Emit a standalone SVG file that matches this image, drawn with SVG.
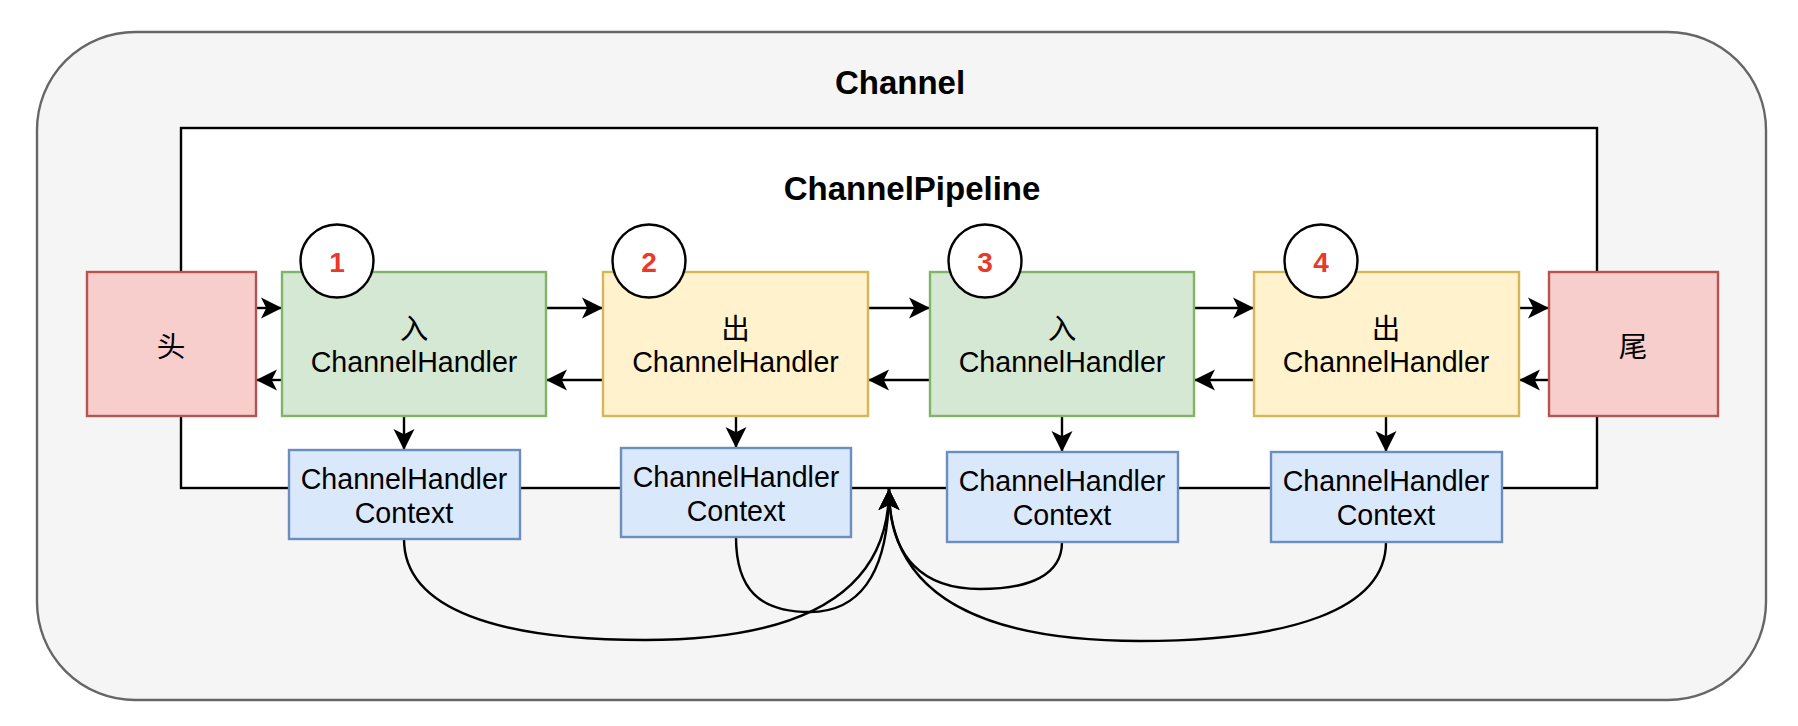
<svg xmlns="http://www.w3.org/2000/svg" width="1798" height="726" viewBox="0 0 1798 726">
<style>
.t{font-family:"Liberation Sans",Arial,"Noto Sans CJK SC",sans-serif;fill:#000;text-anchor:middle}
.title{font-size:33px;font-weight:bold}
.lbl{font-size:28.6px}
.num{font-size:28px;font-weight:bold;fill:#e8392b}
.green{fill:#d5e8d4;stroke:#82b366;stroke-width:2.4}
.yellow{fill:#fff2cc;stroke:#d6b656;stroke-width:2.4}
.red{fill:#f8cecc;stroke:#b85450;stroke-width:2.4}
.blue{fill:#dae8fc;stroke:#6c8ebf;stroke-width:2.4}
.circ{fill:#fff;stroke:#000;stroke-width:2.4}
.edge{fill:none;stroke:#000;stroke-width:2.4}
</style>
<defs>
<marker id="arr" markerUnits="userSpaceOnUse" viewBox="-22 -12 24 24" refX="0" refY="0" markerWidth="24" markerHeight="24" orient="auto">
<path d="M0,0 L-21,-10.5 L-15.75,0 L-21,10.5 Z" fill="#000"/>
</marker>
</defs>
<g id="channel">
<rect x="37" y="32" width="1729" height="668" rx="98" ry="98" fill="#f5f5f5" stroke="#666666" stroke-width="2.4"/>
<text class="t title" x="900" y="94">Channel</text>
</g>
<g id="pipeline">
<rect x="181" y="128" width="1416" height="360" fill="#ffffff" stroke="#000" stroke-width="2.4"/>
<text class="t title" x="912" y="200">ChannelPipeline</text>
</g>
<g id="connectors">
<path class="edge" d="M256,308 L282,308" marker-end="url(#arr)"/>
<path class="edge" d="M546,308 L603,308" marker-end="url(#arr)"/>
<path class="edge" d="M868,308 L930,308" marker-end="url(#arr)"/>
<path class="edge" d="M1194,308 L1254,308" marker-end="url(#arr)"/>
<path class="edge" d="M1519,308 L1549,308" marker-end="url(#arr)"/>
<path class="edge" d="M1549,380 L1519,380" marker-end="url(#arr)"/>
<path class="edge" d="M1254,380 L1194,380" marker-end="url(#arr)"/>
<path class="edge" d="M930,380 L868,380" marker-end="url(#arr)"/>
<path class="edge" d="M603,380 L546,380" marker-end="url(#arr)"/>
<path class="edge" d="M282,380 L256,380" marker-end="url(#arr)"/>
<path class="edge" d="M404,416 L404,450" marker-end="url(#arr)"/>
<path class="edge" d="M736,416 L736,448" marker-end="url(#arr)"/>
<path class="edge" d="M1062,416 L1062,452" marker-end="url(#arr)"/>
<path class="edge" d="M1386,416 L1386,452" marker-end="url(#arr)"/>
<path class="edge" d="M404,539 C404,610 500,640 645,640 C770,640 889,610 889,489" marker-end="url(#arr)"/>
<path class="edge" d="M736,537 C736,590 760,612 810,612 C855,612 889,580 889,489" marker-end="url(#arr)"/>
<path class="edge" d="M1062,542 C1062,575 1030,589 980,589 C925,589 889,560 889,489" marker-end="url(#arr)"/>
<path class="edge" d="M1386,542 C1386,610 1290,641 1140,641 C990,641 889,600 889,489" marker-end="url(#arr)"/>
</g>
<g id="head">
<rect class="red" x="87" y="272" width="169" height="144"/>
<text class="t lbl" x="171" y="357">头</text>
</g>
<g id="handler1">
<rect class="green" x="282" y="272" width="264" height="144"/>
<text class="t lbl" x="414" y="339">入</text>
<text class="t lbl" x="414" y="372">ChannelHandler</text>
</g>
<g id="handler2">
<rect class="yellow" x="603" y="272" width="265" height="144"/>
<text class="t lbl" x="735.5" y="339">出</text>
<text class="t lbl" x="735.5" y="372">ChannelHandler</text>
</g>
<g id="handler3">
<rect class="green" x="930" y="272" width="264" height="144"/>
<text class="t lbl" x="1062" y="339">入</text>
<text class="t lbl" x="1062" y="372">ChannelHandler</text>
</g>
<g id="handler4">
<rect class="yellow" x="1254" y="272" width="265" height="144"/>
<text class="t lbl" x="1386" y="339">出</text>
<text class="t lbl" x="1386" y="372">ChannelHandler</text>
</g>
<g id="tail">
<rect class="red" x="1549" y="272" width="169" height="144"/>
<text class="t lbl" x="1633" y="357">尾</text>
</g>
<g id="badge1">
<circle class="circ" cx="337" cy="261" r="36.5"/>
<text class="t num" x="337" y="272">1</text>
</g>
<g id="badge2">
<circle class="circ" cx="649" cy="261" r="36.5"/>
<text class="t num" x="649" y="272">2</text>
</g>
<g id="badge3">
<circle class="circ" cx="985" cy="261" r="36.5"/>
<text class="t num" x="985" y="272">3</text>
</g>
<g id="badge4">
<circle class="circ" cx="1321" cy="261" r="36.5"/>
<text class="t num" x="1321" y="272">4</text>
</g>
<g id="ctx1">
<rect class="blue" x="289" y="450" width="231" height="89"/>
<text class="t lbl" x="404" y="489">ChannelHandler</text>
<text class="t lbl" x="404" y="523">Context</text>
</g>
<g id="ctx2">
<rect class="blue" x="621" y="448" width="230" height="89"/>
<text class="t lbl" x="736" y="487">ChannelHandler</text>
<text class="t lbl" x="736" y="521">Context</text>
</g>
<g id="ctx3">
<rect class="blue" x="947" y="452" width="231" height="90"/>
<text class="t lbl" x="1062" y="491">ChannelHandler</text>
<text class="t lbl" x="1062" y="525">Context</text>
</g>
<g id="ctx4">
<rect class="blue" x="1271" y="452" width="231" height="90"/>
<text class="t lbl" x="1386" y="491">ChannelHandler</text>
<text class="t lbl" x="1386" y="525">Context</text>
</g>
</svg>
